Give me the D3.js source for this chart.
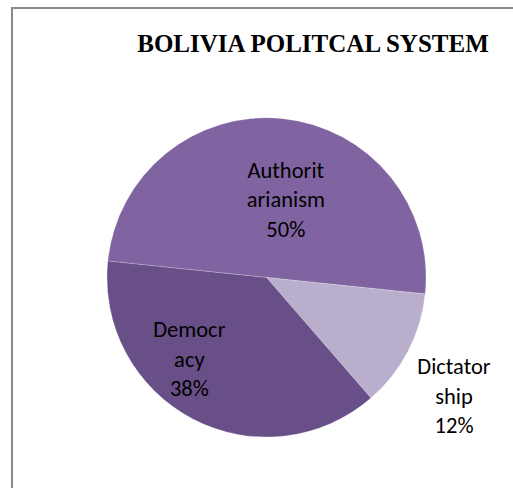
<!DOCTYPE html>
<html>
<head>
<meta charset="utf-8">
<script src="https://cdn.jsdelivr.net/npm/d3@7"></script>
<style>
  html, body { margin: 0; padding: 0; background: #ffffff; }
  svg { display: block; }
</style>
</head>
<body>
<script>
// Political system shares (percent), in drawing order clockwise
const categories = ["Authoritarianism", "Dictatorship", "Democracy"];
const values = [50, 12, 38];
const labelLines = [["Authorit", "arianism"], ["Dictator", "ship"], ["Democr", "acy"]];
const colors = ["#8064a2", "#b9aecb", "#684f88"];
const title = "BOLIVIA POLITCAL SYSTEM";

const W = 513, H = 488;
const cx = 266.5, cy = 277.5, R = 159.5;
const startDeg = -84.1;

// label placement: angle offset (deg) from slice middle and distance factor of radius
const labelPlacement = [
  { dAngle: 9, k: 0.47 },
  { dAngle: 6, k: 1.41 },
  { dAngle: 14, k: 0.73 }
];

const svg = d3.select("body").append("svg")
  .attr("width", W).attr("height", H);

// chart frame (continues past the page edges on right and bottom)
svg.append("rect")
  .attr("x", 12).attr("y", 8)
  .attr("width", 560).attr("height", 540)
  .attr("fill", "#ffffff")
  .attr("stroke", "#8a8a8a")
  .attr("stroke-width", 2);

svg.append("text")
  .attr("x", 313).attr("y", 52)
  .attr("text-anchor", "middle")
  .attr("font-family", "'Liberation Serif', 'Times New Roman', serif")
  .attr("font-weight", "bold")
  .attr("font-size", 25)
  .attr("fill", "#000")
  .text(title);

const data = categories.map((c, i) => ({ name: c, value: values[i], i }));

const pie = d3.pie()
  .sort(null)
  .value(d => d.value)
  .startAngle(startDeg * Math.PI / 180)
  .endAngle(startDeg * Math.PI / 180 + 2 * Math.PI);

const arcs = pie(data);
const arc = d3.arc().innerRadius(0).outerRadius(R);

const g = svg.append("g").attr("transform", `translate(${cx},${cy})`);

g.selectAll("path.slice")
  .data(arcs)
  .join("path")
  .attr("class", "slice")
  .attr("d", arc)
  .attr("fill", d => colors[d.data.i])
  .attr("stroke", "#ffffff")
  .attr("stroke-opacity", 0.35)
  .attr("stroke-width", 0.6);

const fmt = d3.format(".0%");
const total = d3.sum(values);
const lineH = 29.5;

g.selectAll("text.lbl")
  .data(arcs)
  .join("text")
  .attr("class", "lbl")
  .attr("text-anchor", "middle")
  .attr("font-family", "Carlito, Calibri, Lato, 'Open Sans', sans-serif")
  .attr("font-size", 22.5)
  .attr("fill", "#000")
  .each(function (d) {
    const p = labelPlacement[d.data.i];
    const a = (d.startAngle + d.endAngle) / 2 + p.dAngle * Math.PI / 180;
    const r = R * p.k;
    const x = Math.sin(a) * r;
    const y = -Math.cos(a) * r;
    const lines = labelLines[d.data.i].concat([fmt(d.data.value / total)]);
    const t = d3.select(this);
    lines.forEach((ln, j) => {
      t.append("tspan")
        .attr("x", x)
        .attr("y", y + (j - 1) * lineH + 2)
        .text(ln);
    });
  });
</script>
</body>
</html>
